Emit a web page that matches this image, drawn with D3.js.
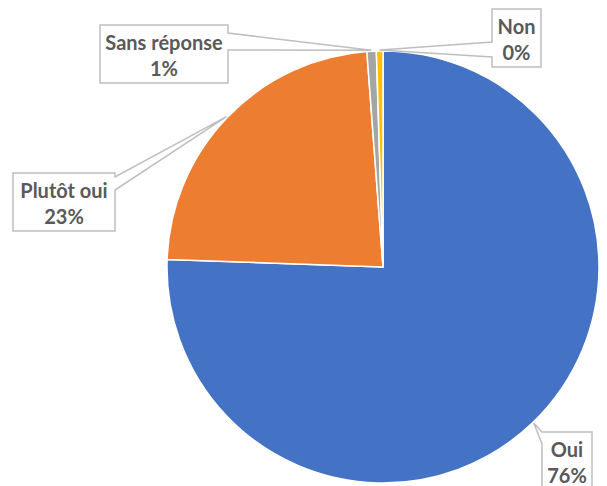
<!DOCTYPE html>
<html>
<head>
<meta charset="utf-8">
<script src="https://cdn.jsdelivr.net/npm/d3@7"></script>
<style>
  html, body { margin: 0; padding: 0; background: #ffffff; }
  svg { display: block; }
</style>
</head>
<body>
<div id="chart"></div>
<script>
// ---- data ----
const categories = ["Oui", "Plutôt oui", "Sans réponse", "Non"];
const values = [75.55, 23.26, 0.7, 0.49];
const colors = ["#4472C4", "#ED7D31", "#A5A5A5", "#FFC000"];

// ---- layout (label callout boxes) ----
const labelBoxes = [
  { x: 542, y: 432, w: 50, h: 58, side: "left",  b1: 0,  b2: 12 },
  { x: 13,  y: 173, w: 102, h: 58, side: "right", b1: 4,  b2: 17 },
  { x: 100, y: 25,  w: 128, h: 58, side: "right", b1: 8,  b2: 25 },
  { x: 492, y: 9,   w: 49,  h: 58, side: "left",  b1: 33, b2: 48 }
];

const W = 607, H = 486;
const cx = 383, cy = 267, R = 216;

const svg = d3.select("#chart").append("svg")
  .attr("width", W).attr("height", H)
  .style("background", "#ffffff");

const pie = d3.pie().sort(null).value(d => d.v).startAngle(0).endAngle(2 * Math.PI);
const data = categories.map((c, i) => ({ c, v: values[i], color: colors[i] }));
const arcs = pie(data);
const arc = d3.arc().innerRadius(0).outerRadius(R);

const g = svg.append("g").attr("transform", `translate(${cx},${cy})`);
g.selectAll("path.slice").data(arcs).join("path")
  .attr("class", "slice")
  .attr("d", arc)
  .attr("fill", d => d.data.color)
  .attr("stroke", "#ffffff")
  .attr("stroke-width", 1.5)
  .attr("stroke-linejoin", "round");

// callouts
function calloutPath(b, ax, ay) {
  const x0 = b.x, y0 = b.y, x1 = b.x + b.w, y1 = b.y + b.h;
  const p = [];
  if (b.side === "right") {
    p.push([x0, y0], [x1, y0], [x1, y0 + b.b1], [ax, ay], [x1, y0 + b.b2], [x1, y1], [x0, y1]);
  } else if (b.side === "left") {
    p.push([x0, y0], [x1, y0], [x1, y1], [x0, y1], [x0, y0 + b.b2], [ax, ay], [x0, y0 + b.b1]);
  } else { // top
    p.push([x0, y0], [x0 + b.b1, y0], [ax, ay], [x0 + b.b2, y0], [x1, y0], [x1, y1], [x0, y1]);
  }
  return "M" + p.map(q => q.join(",")).join("L") + "Z";
}

const fmt = v => Math.round(v) + "%";
const labels = svg.append("g");
arcs.forEach((a, i) => {
  const b = labelBoxes[i];
  const mid = (a.startAngle + a.endAngle) / 2;
  const ax = cx + (R + 1) * Math.sin(mid);
  const ay = cy - (R + 1) * Math.cos(mid);
  labels.append("path")
    .attr("d", calloutPath(b, ax, ay))
    .attr("fill", "#ffffff")
    .attr("stroke", "#BFBFBF")
    .attr("stroke-width", 1.5)
    .attr("stroke-linejoin", "miter");
  const t = labels.append("text")
    .attr("x", b.x + b.w / 2)
    .attr("text-anchor", "middle")
    .attr("font-family", "Lato, 'Open Sans', sans-serif")
    .attr("font-weight", "bold")
    .attr("font-size", 20)
    .attr("fill", "#595959");
  t.append("tspan").attr("x", b.x + b.w / 2).attr("y", b.y + 25).text(a.data.c);
  t.append("tspan").attr("x", b.x + b.w / 2).attr("y", b.y + 51).text(fmt(a.data.v));
});
</script>
</body>
</html>
